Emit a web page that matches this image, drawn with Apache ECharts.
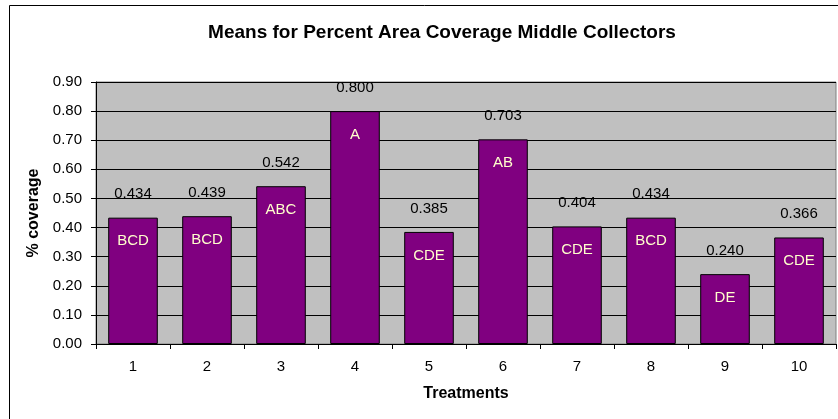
<!DOCTYPE html>
<html>
<head>
<meta charset="utf-8">
<script src="https://cdn.jsdelivr.net/npm/echarts@6/dist/echarts.min.js"></script>
<style>html,body{margin:0;padding:0;background:#fff}#c{width:838px;height:419px}</style>
</head>
<body>
<div id="c"></div>
<script>
const titleText = 'Means for Percent Area Coverage Middle Collectors';
const categories = ['1','2','3','4','5','6','7','8','9','10'];
const means = [0.434, 0.439, 0.542, 0.800, 0.385, 0.703, 0.404, 0.434, 0.240, 0.366];
const letters = ['BCD','BCD','ABC','A','CDE','AB','CDE','BCD','DE','CDE'];
const yTicks = [0, 0.9, 0.1];

const chart = echarts.init(document.getElementById('c'));
const font = 'Arial, "Liberation Sans", sans-serif';
chart.setOption({
  animation: false,
  title: {
    text: titleText, left: 437, top: 18, textAlign: 'center',
    textStyle: {fontFamily: font, fontSize: 19, fontWeight: 'bold', color: '#000'}
  },
  graphic: [{
    type: 'rect', shape: {x: 9.5, y: 5.5, width: 900, height: 500},
    style: {fill: 'none', stroke: '#000', lineWidth: 1}, z: -10, silent: true
  }],
  grid: {left: 96, top: 82, right: 2, bottom: 75, show: true, backgroundColor: '#C0C0C0', borderColor: '#808080', borderWidth: 1},
  xAxis: {
    type: 'category', data: categories,
    name: 'Treatments', nameLocation: 'middle', nameGap: 42,
    nameTextStyle: {fontFamily: font, fontSize: 16, fontWeight: 'bold', color: '#000'},
    axisLine: {lineStyle: {color: '#000', width: 1}},
    axisTick: {show: true, length: 5, inside: false, alignWithLabel: false, lineStyle: {color: '#000'}},
    axisLabel: {fontFamily: font, fontSize: 15, color: '#000', margin: 15}
  },
  yAxis: {
    type: 'value', min: yTicks[0], max: yTicks[1], interval: yTicks[2],
    name: '% coverage', nameLocation: 'middle', nameGap: 53, nameRotate: 90,
    nameTextStyle: {fontFamily: font, fontSize: 16, fontWeight: 'bold', color: '#000'},
    axisLine: {show: true, lineStyle: {color: '#000', width: 1}},
    axisTick: {show: true, length: 5, lineStyle: {color: '#000'}},
    axisLabel: {fontFamily: font, fontSize: 15, color: '#000', margin: 14, formatter: v => v.toFixed(2)},
    splitLine: {show: true, lineStyle: {color: '#000', width: 1}}
  },
  series: [{
    type: 'bar', data: means, barCategoryGap: '33%',
    itemStyle: {color: '#800080', borderColor: '#000', borderWidth: 1},
    label: {show: true, position: 'top', distance: 16, fontFamily: font, fontSize: 15, color: '#000', formatter: p => p.value.toFixed(3)},
    z: 2
  }, {
    type: 'bar', data: means, barGap: '-100%', barCategoryGap: '33%',
    itemStyle: {color: 'rgba(0,0,0,0)'},
    label: {show: true, position: 'insideTop', distance: 16, fontFamily: font, fontSize: 15, color: '#FFFFCC', formatter: p => letters[p.dataIndex]},
    z: 3, silent: true
  }]
});
</script>
</body>
</html>
